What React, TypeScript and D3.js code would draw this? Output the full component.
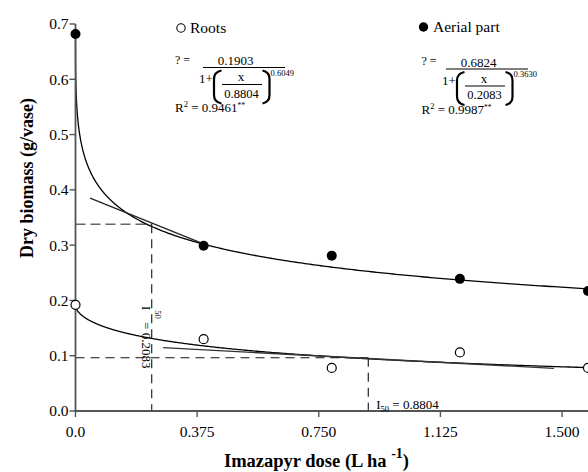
import React from 'react';
import * as d3 from 'd3';

// doses (L ha-1) and measured dry biomass (g/vase)
const doses = [0, 0.395, 0.79, 1.185, 1.58];
const aerial = [0.682, 0.299, 0.281, 0.239, 0.217];
const roots = [0.192, 0.13, 0.078, 0.106, 0.078];

const xTicks = [0, 0.375, 0.75, 1.125, 1.5];
const xTickLabels = ['0.0', '0.375', '0.750', '1.125', '1.500'];
const yTicks = [0, 0.1, 0.2, 0.3, 0.4, 0.5, 0.6, 0.7];
const yTickLabels = ['0.0', '0.1', '0.2', '0.3', '0.4', '0.5', '0.6', '0.7'];

// log-logistic fits: [a, I50, b]
const rootsFit = [0.1903, 0.8804, 0.6049];
const aerialFit = [0.6824, 0.2083, 0.363];
const rootsFitLabels = ['0.1903', '0.8804', '0.6049', '0.9461'];
const aerialFitLabels = ['0.6824', '0.2083', '0.3630', '0.9987'];

// I50 guide lines [x, y] and tangent segments
const aerialGuide = [0.235, 0.338];
const rootsGuide = [0.9026, 0.0964];
const aerialTangent = [[0.045, 0.385], [0.387, 0.304]];
const rootsTangent = [[0.27, 0.1145], [1.475, 0.0772]];

const xMax = 1.58;
const serif = '"Liberation Serif", "Times New Roman", serif';

const fit = (p: number[]) => (x: number) => p[0] / (1 + Math.pow(x / p[1], p[2]));

const Equation = ({ ox, oy, s, labels }: { ox: number; oy: number; s: number; labels: string[] }) => (
  <g transform={`translate(${ox},${oy})`} fontFamily={serif} fill="#000">
    <text x={0} y={63.5} fontSize={12}>? =</text>
    <g transform={`translate(${s},0)`}>
      <text x={60.5} y={65} fontSize={13} textAnchor="middle">{labels[0]}</text>
      <line x1={28} x2={110} y1={67.5} y2={67.5} stroke="#000" strokeWidth={1.2} />
      <text x={24} y={83} fontSize={13}>1+</text>
      <path d="M 46.5 70.5 Q 39 72 39 79 L 39 95 Q 39 102 46.5 103.5" fill="none" stroke="#000" strokeWidth={2.2} />
      <text x={66} y={81} fontSize={13} textAnchor="middle">x</text>
      <line x1={47} x2={87} y1={84.5} y2={84.5} stroke="#000" strokeWidth={1.2} />
      <text x={66.5} y={97.5} fontSize={12.5} textAnchor="middle">{labels[1]}</text>
      <path d="M 87.5 70.5 Q 94.5 72 94.5 79 L 94.5 95 Q 94.5 102 87.5 103.5" fill="none" stroke="#000" strokeWidth={2.2} />
      <text x={95.5} y={75.5} fontSize={8.5}>{labels[2]}</text>
    </g>
    <text x={0} y={112} fontSize={13}>
      R<tspan fontSize={8.5} dy={-5}>2</tspan>
      <tspan dy={5}> = {labels[3]}</tspan>
      <tspan fontSize={7.5} dy={-4}>**</tspan>
    </text>
  </g>
);

export default function App() {
  const x = d3.scaleLinear().domain([0, xMax]).range([75.5, 588]);
  const y = d3.scaleLinear().domain([0, 0.7]).range([411, 24]);

  // dense sampling near zero where the fitted curves are steep
  const samples = d3.range(0, 1.00001, 0.0025).map(u => xMax * u * u * u);
  const curve = (p: number[]) => {
    const f = fit(p);
    return d3
      .line<number>()
      .x(d => x(d))
      .y(d => y(f(d)))(samples) as string;
  };
  const seg = d3
    .line<number[]>()
    .x(d => x(d[0]))
    .y(d => y(d[1]));

  return (
    <svg width={588} height={472} style={{ position: 'absolute', left: 0, top: 0, background: '#fff' }}>
      {/* guide lines */}
      <line x1={x(0)} x2={x(aerialGuide[0])} y1={y(aerialGuide[1])} y2={y(aerialGuide[1])} stroke="#666" strokeWidth={1.5} strokeDasharray="10,5" />
      <line x1={x(aerialGuide[0])} x2={x(aerialGuide[0])} y1={y(aerialGuide[1])} y2={y(0)} stroke="#111" strokeWidth={1.1} strokeDasharray="9,6" />
      <line x1={x(0)} x2={x(rootsGuide[0])} y1={y(rootsGuide[1])} y2={y(rootsGuide[1])} stroke="#111" strokeWidth={1.1} strokeDasharray="9,6" />
      <line x1={x(rootsGuide[0])} x2={x(rootsGuide[0])} y1={y(rootsGuide[1])} y2={y(0)} stroke="#111" strokeWidth={1.1} strokeDasharray="9,6" />

      {/* fitted curves and tangents */}
      <path d={curve(aerialFit)} fill="none" stroke="#000" strokeWidth={1.3} />
      <path d={curve(rootsFit)} fill="none" stroke="#000" strokeWidth={1.3} />
      <path d={seg(aerialTangent) as string} fill="none" stroke="#222" strokeWidth={1.2} />
      <path d={seg(rootsTangent) as string} fill="none" stroke="#333" strokeWidth={1.3} />

      {/* axes */}
      <line x1={x(0)} x2={x(0)} y1={y(0)} y2={y(0.7)} stroke="#555" strokeWidth={1.8} />
      <line x1={x(0) - 1} x2={588} y1={y(0)} y2={y(0)} stroke="#555" strokeWidth={1.8} />
      {yTicks.map((t, i) => (
        <g key={t}>
          <line x1={x(0) - 6} x2={x(0)} y1={y(t)} y2={y(t)} stroke="#555" strokeWidth={1.4} />
          <text x={x(0) - 7} y={y(t)} dy="0.35em" textAnchor="end" fontSize={15.5} fontFamily={serif}>{yTickLabels[i]}</text>
        </g>
      ))}
      {xTicks.map((t, i) => (
        <g key={t}>
          <line x1={x(t)} x2={x(t)} y1={y(0)} y2={y(0) + 6} stroke="#555" strokeWidth={1.4} />
          <text x={x(t)} y={436.5} textAnchor="middle" fontSize={15.5} fontFamily={serif}>{xTickLabels[i]}</text>
        </g>
      ))}

      {/* data points */}
      {doses.map((d, i) => (
        <circle key={'a' + i} cx={x(d)} cy={y(aerial[i])} r={5} fill="#000" />
      ))}
      {doses.map((d, i) => (
        <circle key={'r' + i} cx={x(d)} cy={y(roots[i])} r={4.5} fill="#fff" stroke="#000" strokeWidth={1.2} />
      ))}

      {/* I50 labels */}
      <text transform={`translate(${x(aerialGuide[0]) - 10},306) rotate(90)`} fontSize={13} fontFamily={serif}>
        I<tspan fontSize={8.5} dy={-13}>50</tspan>
        <tspan dy={13}> = 0.2083</tspan>
      </text>
      <text x={x(rootsGuide[0]) + 8} y={409} fontSize={13} fontFamily={serif}>
        I<tspan fontSize={8.5} dy={3}>50</tspan>
        <tspan dy={-3}> = 0.8804</tspan>
      </text>

      {/* legend and equations */}
      <circle cx={181} cy={28} r={4.2} fill="#fff" stroke="#000" strokeWidth={1.1} />
      <text x={190} y={32.5} fontSize={15.5} fontFamily={serif}>Roots</text>
      <circle cx={423.5} cy={27} r={4.7} fill="#000" />
      <text x={433} y={32} fontSize={15.5} fontFamily={serif}>Aerial part</text>
      <Equation ox={175} oy={0} s={0} labels={rootsFitLabels} />
      <Equation ox={421.5} oy={1.5} s={-3.5} labels={aerialFitLabels} />

      {/* axis titles */}
      <text transform="translate(33,178) rotate(-90)" textAnchor="middle" fontSize={18} fontWeight="bold" fontFamily={serif}>
        Dry biomass (g/vase)
      </text>
      <text x={316.5} y={466.5} textAnchor="middle" fontSize={18.5} fontWeight="bold" fontFamily={serif}>
        Imazapyr dose (L ha <tspan fontSize={14} dy={-9}>-1</tspan>
        <tspan dy={9}>)</tspan>
      </text>
    </svg>
  );
}
